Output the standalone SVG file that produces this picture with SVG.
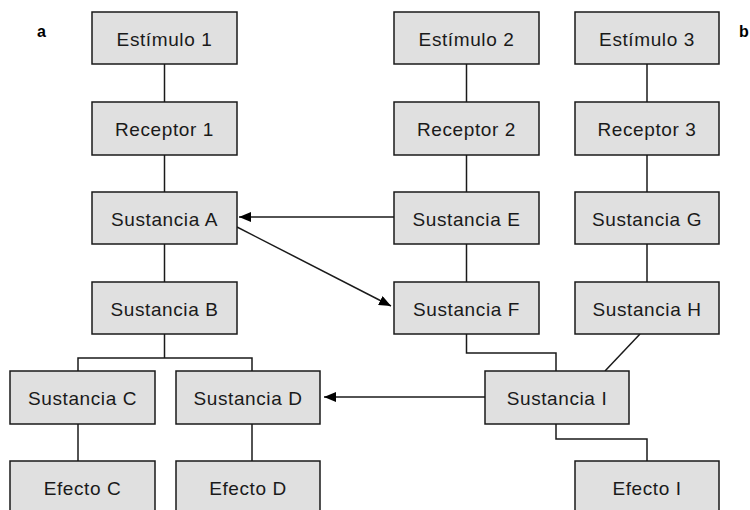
<svg xmlns="http://www.w3.org/2000/svg" width="750" height="510" viewBox="0 0 750 510">
<style>
.box rect{fill:#e0e0e0;stroke:#1a1a1a;stroke-width:1.5}
.box text{font-family:"Liberation Sans",Arial,sans-serif;font-size:19px;letter-spacing:0.6px;fill:#1a1a1a;text-anchor:middle}
.lbl{font-family:"Liberation Sans",Arial,sans-serif;font-size:16px;font-weight:bold;fill:#000}
#connectors path{fill:none;stroke:#1a1a1a;stroke-width:1.5}
</style>
<defs>
<marker id="arr" viewBox="0 0 12 10" refX="12" refY="5" markerWidth="12" markerHeight="10" markerUnits="userSpaceOnUse" orient="auto">
<path d="M0,0 L12,5 L0,10 z" fill="#000"/>
</marker>
</defs>
<rect width="750" height="510" fill="#fff"/>
<text class="lbl" x="37" y="37">a</text>
<text class="lbl" x="739" y="37">b</text>
<g id="connectors">
<path d="M164.5,64 V102"/>
<path d="M164.5,155 V192"/>
<path d="M164.5,244 V282"/>
<path d="M164.5,334 V358 M78,371 V358 H252 V371"/>
<path d="M78,424 V461"/>
<path d="M252,424 V461"/>
<path d="M466.5,64 V102"/>
<path d="M466.5,155 V192"/>
<path d="M466.5,244 V282"/>
<path d="M647,64 V102"/>
<path d="M647,155 V192"/>
<path d="M647,244 V282"/>
<path d="M394,217 H239" marker-end="url(#arr)"/>
<path d="M237,227 L391,306" marker-end="url(#arr)"/>
<path d="M466.5,334 V353 H556 V371"/>
<path d="M640,334 L605,371"/>
<path d="M485,397 H324" marker-end="url(#arr)"/>
<path d="M556,424 V439 H647 V461"/>
</g>
<g id="estimulo1" class="box"><rect x="92" y="12" width="145" height="52"/><text x="164.5" y="46">Estímulo 1</text></g>
<g id="receptor1" class="box"><rect x="92" y="102" width="145" height="53"/><text x="164.5" y="136">Receptor 1</text></g>
<g id="sustanciaA" class="box"><rect x="92" y="192" width="145" height="52"/><text x="164.5" y="226">Sustancia A</text></g>
<g id="sustanciaB" class="box"><rect x="92" y="282" width="145" height="52"/><text x="164.5" y="316">Sustancia B</text></g>
<g id="sustanciaC" class="box"><rect x="10" y="371" width="145" height="53"/><text x="82.5" y="405">Sustancia C</text></g>
<g id="sustanciaD" class="box"><rect x="176" y="371" width="144" height="53"/><text x="248" y="405">Sustancia D</text></g>
<g id="efectoC" class="box"><rect x="10" y="461" width="145" height="60"/><text x="82.5" y="495">Efecto C</text></g>
<g id="efectoD" class="box"><rect x="176" y="461" width="144" height="60"/><text x="248" y="495">Efecto D</text></g>
<g id="estimulo2" class="box"><rect x="394" y="12" width="145" height="52"/><text x="466.5" y="46">Estímulo 2</text></g>
<g id="receptor2" class="box"><rect x="394" y="102" width="145" height="53"/><text x="466.5" y="136">Receptor 2</text></g>
<g id="sustanciaE" class="box"><rect x="394" y="192" width="145" height="52"/><text x="466.5" y="226">Sustancia E</text></g>
<g id="sustanciaF" class="box"><rect x="394" y="282" width="145" height="52"/><text x="466.5" y="316">Sustancia F</text></g>
<g id="estimulo3" class="box"><rect x="575" y="12" width="144" height="52"/><text x="647" y="46">Estímulo 3</text></g>
<g id="receptor3" class="box"><rect x="575" y="102" width="144" height="53"/><text x="647" y="136">Receptor 3</text></g>
<g id="sustanciaG" class="box"><rect x="575" y="192" width="144" height="52"/><text x="647" y="226">Sustancia G</text></g>
<g id="sustanciaH" class="box"><rect x="575" y="282" width="144" height="52"/><text x="647" y="316">Sustancia H</text></g>
<g id="sustanciaI" class="box"><rect x="485" y="371" width="144" height="53"/><text x="557" y="405">Sustancia I</text></g>
<g id="efectoI" class="box"><rect x="575" y="461" width="144" height="60"/><text x="647" y="495">Efecto I</text></g>
</svg>
